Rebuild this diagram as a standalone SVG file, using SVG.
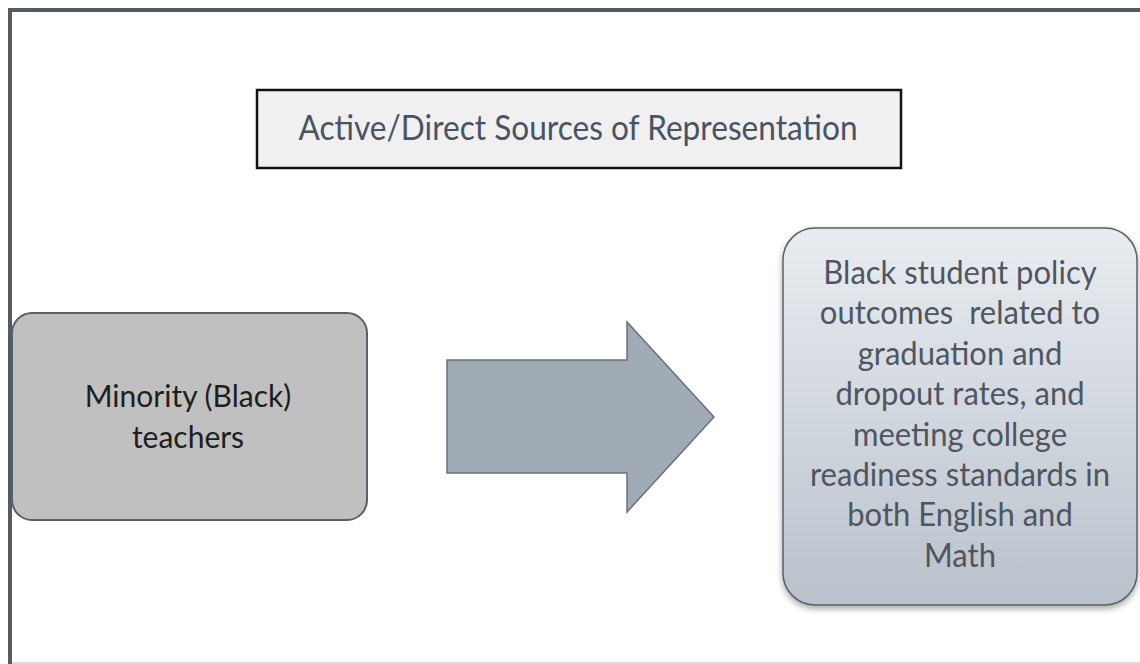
<svg xmlns="http://www.w3.org/2000/svg" width="1140" height="664" viewBox="0 0 1140 664">
<defs>
<linearGradient id="g1" x1="0" y1="0" x2="0" y2="1">
<stop offset="0" stop-color="#e9edf1"/>
<stop offset="1" stop-color="#b9c1cb"/>
</linearGradient>
<filter id="sh" x="-10%" y="-10%" width="120%" height="120%">
<feDropShadow dx="0" dy="3" stdDeviation="3" flood-color="#000" flood-opacity="0.35"/>
</filter>
<style>
.t{font-family:Lato,"Open Sans","Liberation Sans",sans-serif;text-anchor:middle}
</style>
</defs>
<rect width="1140" height="664" fill="#ffffff"/>
<g id="frame">
<path d="M10 664 V10 H1140" fill="none" stroke="#555b63" stroke-width="4"/>
<line x1="12" y1="663" x2="1140" y2="663" stroke="#d8dadd" stroke-width="2"/>
</g>
<g id="title">
<rect x="257" y="90" width="644" height="78" fill="#f0f0f0" stroke="#111" stroke-width="2.5"/>
<g transform="translate(578 0) scale(0.93 1)">
<text class="t" x="0" y="140" font-size="34" fill="#4a5364">Active/Direct Sources of Representation</text>
</g>
</g>
<g id="source">
<rect x="12" y="313" width="355" height="207" rx="20" fill="#c0c0c0" stroke="#5a6068" stroke-width="2"/>
<text class="t" x="188" y="407" font-size="30" fill="#1e1e1e">Minority (Black)</text>
<text class="t" x="188" y="448" font-size="30" fill="#1e1e1e">teachers</text>
</g>
<g id="connectors">
<polygon points="447,360 627,360 627,322 714,417 627,512 627,473 447,473" fill="#a0abb6" stroke="#6a717a" stroke-width="1.5"/>
</g>
<g id="outcome">
<rect x="783" y="228" width="354" height="377" rx="32" fill="url(#g1)" stroke="#5a6068" stroke-width="1.5" filter="url(#sh)"/>
<g class="t" font-size="32" fill="#4f5660" transform="translate(960 0) scale(0.97 1)">
<text x="0" y="284">Black student policy</text>
<text x="0" y="324" xml:space="preserve">outcomes  related to</text>
<text x="0" y="365">graduation and</text>
<text x="0" y="405">dropout rates, and</text>
<text x="0" y="446">meeting college</text>
<text x="0" y="486">readiness standards in</text>
<text x="0" y="526">both English and</text>
<text x="0" y="567">Math</text>
</g>
</g>
</svg>
